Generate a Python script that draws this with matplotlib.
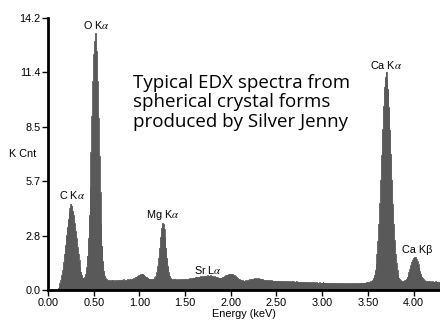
import matplotlib.pyplot as plt
import numpy as np

# channel width 10 eV, 0.00 .. 4.30 keV
channel_kev = 0.01
counts = [
    # 0.00 - 0.09
    0, 0, 0, 0, 0, 0, 0, 0, 0, 0.02,
    # 0.10 - 0.39  (C Ka)
    0.06, 0.12, 0.22, 0.35, 0.52, 0.78, 1.05, 1.45, 1.9, 2.35,
    2.85, 3.3, 3.7, 4.05, 4.3, 4.5, 4.4, 4.15, 3.9, 3.5,
    3.1, 2.7, 2.25, 1.9, 1.55, 1.2, 0.95, 0.78, 0.65, 0.62,
    # 0.40 - 0.69  (O Ka)
    0.7, 0.85, 1.2, 1.8, 2.7, 3.9, 5.4, 7.2, 9.1, 10.9,
    12.3, 13.0, 13.4, 12.5, 10.9, 9.0, 7.0, 5.1, 3.5, 2.3,
    1.5, 1.0, 0.75, 0.62, 0.55, 0.52, 0.5, 0.53, 0.49, 0.51,
    # 0.70 - 1.09
    0.48, 0.52, 0.5, 0.47, 0.53, 0.5, 0.49, 0.54, 0.51, 0.5,
    0.53, 0.49, 0.52, 0.55, 0.51, 0.54, 0.52, 0.56, 0.53, 0.55,
    0.57, 0.55, 0.6, 0.58, 0.62, 0.64, 0.68, 0.7, 0.74, 0.78,
    0.8, 0.83, 0.85, 0.86, 0.83, 0.8, 0.75, 0.7, 0.66, 0.62,
    # 1.10 - 1.39  (Mg Ka)
    0.6, 0.58, 0.57, 0.6, 0.58, 0.6, 0.62, 0.66, 0.74, 0.93,
    1.23, 1.67, 2.2, 2.76, 3.24, 3.5, 3.45, 3.2, 2.76, 2.2,
    1.67, 1.23, 0.93, 0.74, 0.64, 0.6, 0.57, 0.55, 0.56, 0.54,
    # 1.40 - 2.29  (Sr La region)
    0.55, 0.53, 0.56, 0.54, 0.57, 0.55, 0.56, 0.58, 0.55, 0.57,
    0.57, 0.59, 0.56, 0.6, 0.58, 0.61, 0.6, 0.63, 0.62, 0.65,
    0.64, 0.66, 0.65, 0.68, 0.67, 0.7, 0.69, 0.72, 0.7, 0.73,
    0.72, 0.74, 0.73, 0.75, 0.74, 0.76, 0.75, 0.74, 0.76, 0.73,
    0.72, 0.7, 0.71, 0.68, 0.67, 0.66, 0.64, 0.65, 0.63, 0.64,
    0.65, 0.67, 0.7, 0.72, 0.76, 0.78, 0.8, 0.82, 0.84, 0.85,
    0.86, 0.85, 0.83, 0.8, 0.76, 0.72, 0.68, 0.64, 0.6, 0.58,
    0.55, 0.53, 0.52, 0.5, 0.49, 0.48, 0.5, 0.49, 0.51, 0.52,
    0.53, 0.55, 0.56, 0.58, 0.6, 0.59, 0.61, 0.6, 0.62, 0.6,
    # 2.30 - 3.49  background
    0.61, 0.59, 0.6, 0.58, 0.57, 0.55, 0.54, 0.52, 0.53, 0.51,
    0.5, 0.51, 0.49, 0.5, 0.48, 0.5, 0.49, 0.47, 0.49, 0.48,
    0.48, 0.47, 0.49, 0.46, 0.48, 0.47, 0.46, 0.48, 0.45, 0.47,
    0.46, 0.45, 0.47, 0.44, 0.46, 0.45, 0.44, 0.46, 0.43, 0.45,
    0.44, 0.43, 0.45, 0.42, 0.44, 0.43, 0.42, 0.44, 0.41, 0.43,
    0.42, 0.41, 0.43, 0.4, 0.42, 0.41, 0.4, 0.42, 0.39, 0.41,
    0.4, 0.39, 0.41, 0.38, 0.4, 0.39, 0.38, 0.4, 0.37, 0.39,
    0.38, 0.4, 0.37, 0.39, 0.38, 0.36, 0.39, 0.37, 0.38, 0.36,
    0.37, 0.39, 0.36, 0.38, 0.37, 0.35, 0.38, 0.36, 0.37, 0.35,
    0.36, 0.38, 0.35, 0.37, 0.36, 0.34, 0.37, 0.35, 0.36, 0.34,
    0.35, 0.37, 0.34, 0.36, 0.35, 0.37, 0.34, 0.36, 0.35, 0.37,
    0.36, 0.35, 0.37, 0.36, 0.38, 0.37, 0.39, 0.38, 0.4, 0.42,
    # 3.50 - 3.89  (Ca Ka)
    0.41, 0.43, 0.42, 0.45, 0.47, 0.52, 0.62, 0.78, 1.02, 1.38,
    1.89, 2.58, 3.46, 4.53, 5.75, 7.07, 8.39, 9.59, 10.6, 11.1,
    11.4, 11.0, 10.5, 9.55, 8.35, 7.1, 5.75, 4.5, 3.45, 2.6,
    1.9, 1.4, 1.03, 0.8, 0.64, 0.55, 0.5, 0.48, 0.47, 0.48,
    # 3.90 - 4.30  (Ca Kb)
    0.5, 0.54, 0.6, 0.69, 0.81, 0.95, 1.12, 1.3, 1.46, 1.58,
    1.68, 1.72, 1.7, 1.62, 1.5, 1.34, 1.16, 0.98, 0.83, 0.7,
    0.62, 0.55, 0.5, 0.48, 0.46, 0.45, 0.44, 0.46, 0.44, 0.45,
    0.44, 0.45, 0.43, 0.44, 0.45, 0.43, 0.44, 0.42, 0.44, 0.43,
    0.44,
]
energy = np.arange(len(counts)) * channel_kev

# peak line labels and where they sit
peak_names = ['C K$\\alpha$', 'O K$\\alpha$', 'Mg K$\\alpha$', 'Sr L$\\alpha$',
              'Ca K$\\alpha$', 'Ca K\u03b2']
label_kev = [0.26, 0.53, 1.26, 1.75, 3.70, 4.04]
label_cnt = [4.95, 13.85, 3.9, 1.05, 11.75, 2.1]

yticks = [0.0, 2.8, 5.7, 8.5, 11.4, 14.2]
xticks = [0.0, 0.5, 1.0, 1.5, 2.0, 2.5, 3.0, 3.5, 4.0]

plt.rcParams['font.family'] = ['Liberation Sans', 'DejaVu Sans']
plt.rcParams['mathtext.fontset'] = 'stix'

fig = plt.figure(figsize=(4.4, 3.22), dpi=100)
ax = fig.add_axes([48 / 440, 32 / 322, 1 - 48 / 440, 272 / 322])

gray = '#595959'
ax.fill_between(energy, counts, step='mid', color=gray, lw=0)
ax.step(energy, counts, where='mid', color=gray, lw=0.6)

ax.set_xlim(0, 4.29)
ax.set_ylim(0, 14.2)
ax.set_xticks(xticks, [f'{v:.2f}' for v in xticks])
ax.set_yticks(yticks, [f'{v:.1f}' for v in yticks])
ax.tick_params(labelsize=7.8, length=4, width=1, direction='out', pad=1.5)

for side in ('top', 'right'):
    ax.spines[side].set_visible(False)
ax.spines['left'].set_linewidth(2)
ax.spines['bottom'].set_linewidth(2)

ax.set_xlabel('Energy (keV)', fontsize=7.8, labelpad=1)
ax.text(-0.03, 7.1, 'K Cnt', fontsize=7.8, ha='right', va='center',
        transform=ax.get_yaxis_transform())

for name, x, y in zip(peak_names, label_kev, label_cnt):
    ax.text(x, y, name, fontsize=7.8, ha='center', va='center')

ax.text(0.93, 9.8, 'Typical EDX spectra from\nspherical crystal forms\nproduced by Silver Jenny',
        fontsize=13.5, family=['Open Sans', 'DejaVu Sans'], ha='left', va='center',
        linespacing=1.12)

plt.savefig('out.png', dpi=100)
